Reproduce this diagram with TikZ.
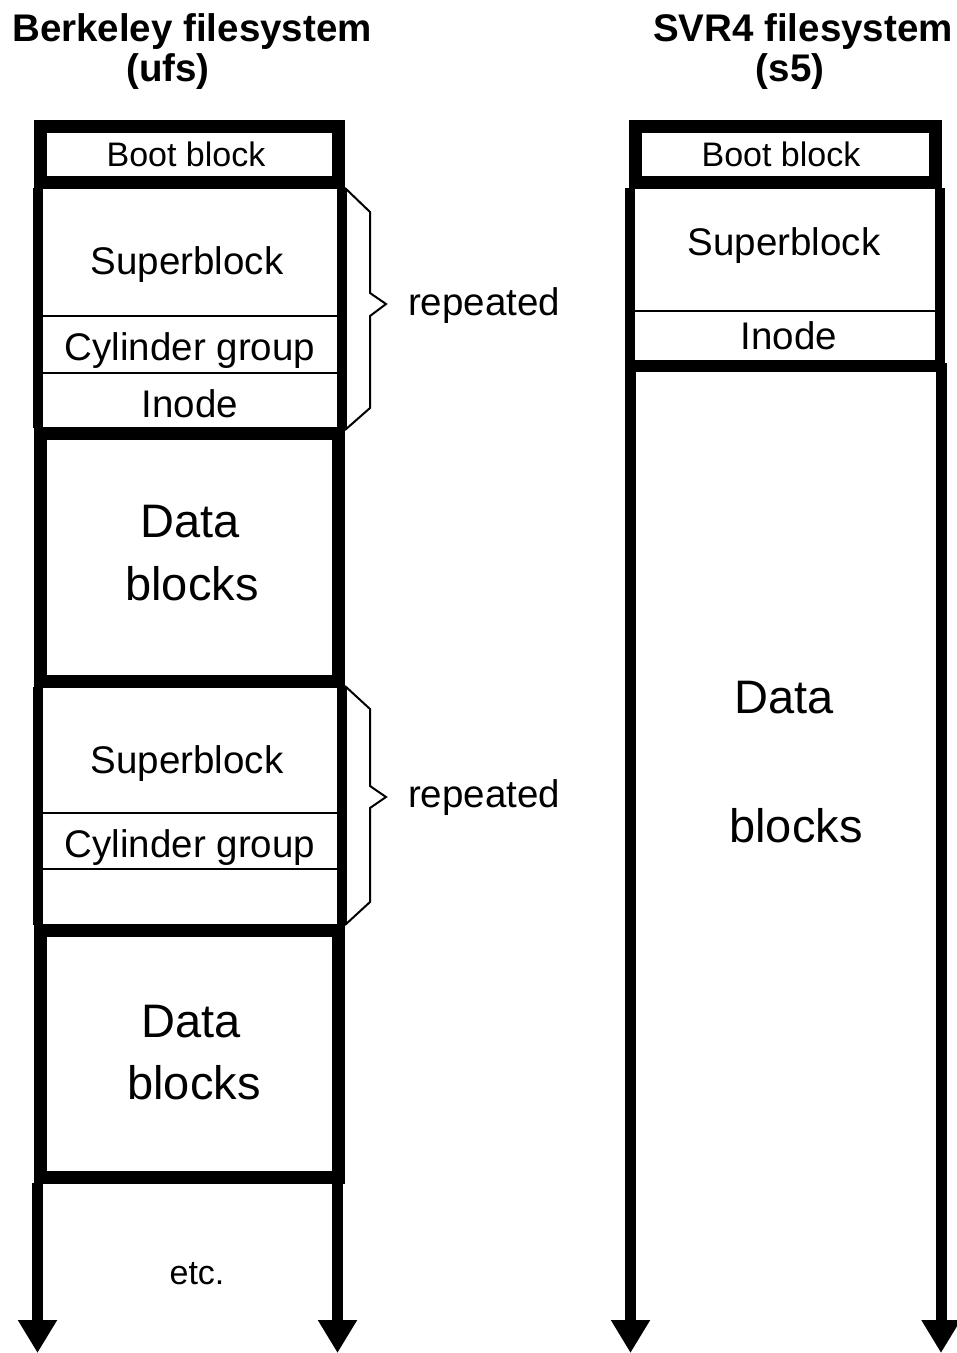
\documentclass[tikz,border=0pt]{standalone}
\usepackage{fontspec}
\setmainfont{Liberation Sans}
\usetikzlibrary{arrows.meta}
\tikzset{>={Triangle[width=18.5pt,length=16.5pt]},
  txt/.style={anchor=base,inner sep=0pt,font=\fontsize{19.25}{23}\selectfont},
  bigtxt/.style={anchor=base,inner sep=0pt,font=\fontsize{23.5}{28}\selectfont},
  smalltxt/.style={anchor=base,inner sep=0pt,font=\fontsize{17}{20}\selectfont},
  titletxt/.style={anchor=base,inner sep=0pt,font=\bfseries\fontsize{19.25}{23}\selectfont},
  wall/.style={line width=6.5pt},
  sidewall/.style={line width=5pt},
  shaft/.style={line width=5.5pt,->},
  sep/.style={line width=0.75pt},
  brace/.style={line width=1pt,line join=miter}}
\begin{document}
\begin{tikzpicture}[x=0.5pt,y=-0.5pt]
      \useasboundingbox (0,0) rectangle (957,1353);

      \node [titletxt] (ufstitle) at (192,42) {Berkeley filesystem};
      \node [titletxt] (ufssub) at (168,82) {(ufs)};
      \node [titletxt] (s5title) at (803,42) {SVR4 filesystem};
      \node [titletxt] (s5sub) at (790,82) {(s5)};

      % Berkeley
      \draw [wall] (40,126.5) rectangle (338,182.5);
      \node [smalltxt] (ufsboot) at (186,167) {Boot block};
      \draw [sidewall] (37.5,188) -- (37.5,428) (342,188) -- (342,428);
      \draw [sep] (42,316) -- (338,316) (42,373) -- (338,373);
      \node [txt] (ufssb1) at (187,275) {Superblock};
      \node [txt] (ufscg1) at (190,360) {Cylinder group};
      \node [txt] (ufsino1) at (190,417) {Inode};
      \draw [wall] (40,433.5) rectangle (338,681.5);
      \node [bigtxt] (ufsdata1) at (190,537) {Data};
      \node [bigtxt] (ufsblk1) at (192,600) {blocks};
      \draw [sidewall] (37.5,687) -- (37.5,925) (342,687) -- (342,925);
      \draw [sep] (42,813) -- (338,813) (42,869) -- (338,869);
      \node [txt] (ufssb2) at (187,773) {Superblock};
      \node [txt] (ufscg2) at (190,857) {Cylinder group};
      \draw [wall] (40,930.5) rectangle (338,1177.5);
      \node [bigtxt] (ufsdata2) at (191,1037) {Data};
      \node [bigtxt] (ufsblk2) at (194,1099) {blocks};
      \node [smalltxt] (ufsetc) at (197,1284) {etc.};
      \coordinate (ufsl) at (37.5,1183);
      \coordinate (ufsr) at (337.5,1183);
      \coordinate (ufsle) at (37.5,1353);
      \coordinate (ufsre) at (337.5,1353);
      \draw [shaft] (ufsl) -- (ufsle);
      \draw [shaft] (ufsr) -- (ufsre);

      \draw [brace] (345,188) -- (370,212) -- (370,293) -- (386,304) -- (370,316) -- (370,408) -- (345,430);
      \node [txt] (rep1) at (484,315) {repeated};
      \draw [brace] (345,686) -- (370,709) -- (370,786) -- (386,797) -- (370,808) -- (370,902) -- (345,925);
      \node [txt] (rep2) at (484,807) {repeated};

      % SVR4
      \draw [wall] (635,126.5) rectangle (935,182.5);
      \node [smalltxt] (s5boot) at (781,167) {Boot block};
      \draw [sidewall] (630,188) -- (630,366) (940,188) -- (940,366);
      \draw [sep] (635,311) -- (935,311);
      \node [txt] (s5sb) at (784,256) {Superblock};
      \node [txt] (s5ino) at (789,350) {Inode};
      \draw [line width=6pt] (627.5,366) -- (943,366);
      \coordinate (s5l) at (630.5,363);
      \coordinate (s5r) at (941,363);
      \coordinate (s5le) at (630.5,1353);
      \coordinate (s5re) at (941,1353);
      \draw [shaft] (s5l) -- (s5le);
      \draw [shaft] (s5r) -- (s5re);
      \node [bigtxt] (s5data) at (784,713) {Data};
      \node [bigtxt] (s5blk) at (796,842) {blocks};
    \end{tikzpicture}
\end{document}
